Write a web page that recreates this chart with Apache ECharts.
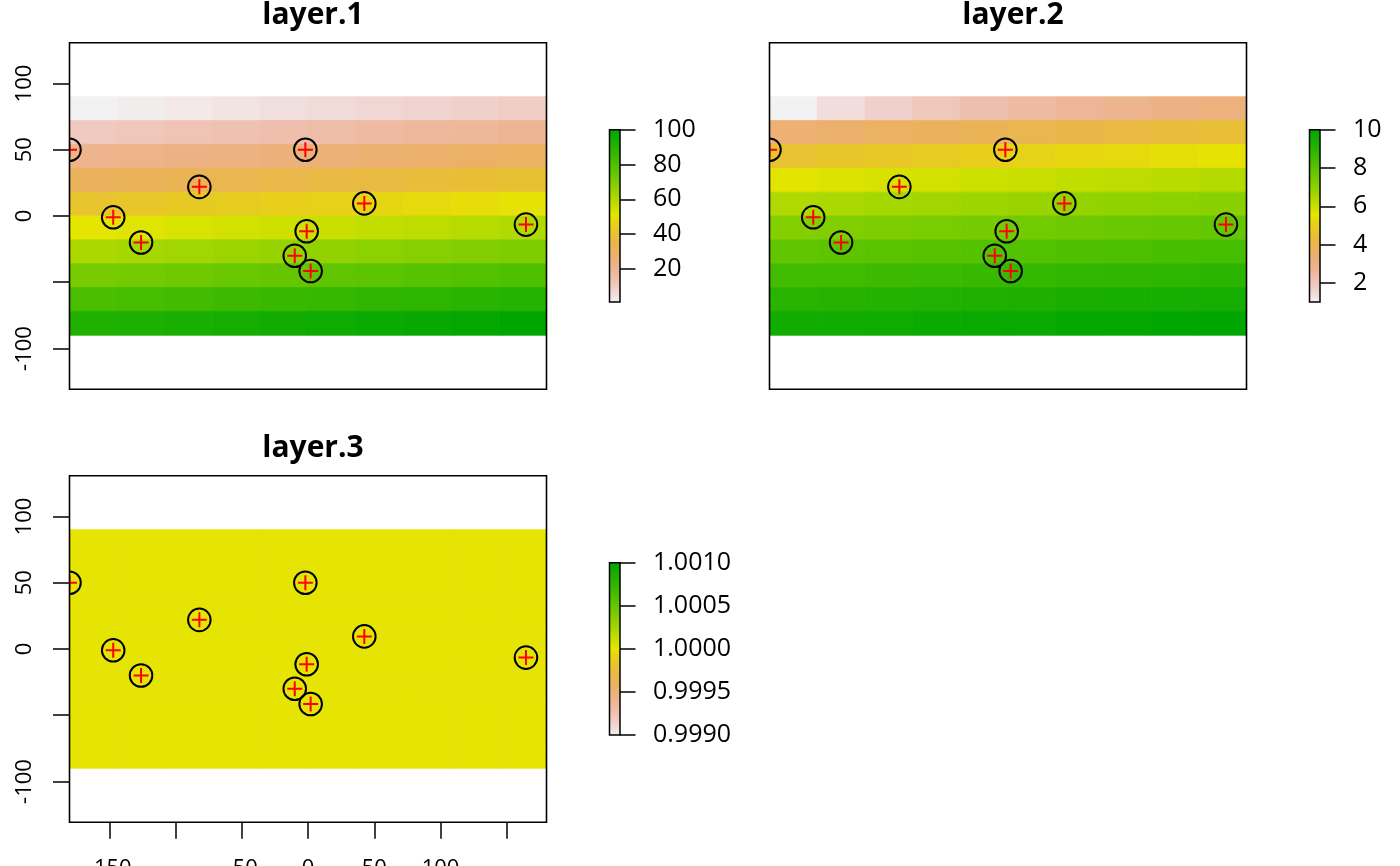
<!DOCTYPE html>
<html>
<head>
<meta charset="utf-8">
<title>layer.1 / layer.2 / layer.3</title>
<script src="https://cdn.jsdelivr.net/npm/echarts@6/dist/echarts.min.js"></script>
<style>
    html, body { margin: 0; padding: 0; background: #fff; }
    #main { width: 1400px; height: 866px; }
</style>
</head>
<body>
<div id="main"></div>
<script>
// 栅格单元中心（经度、纬度）
var lonCenters = [-162, -126, -90, -54, -18, 18, 54, 90, 126, 162];
var latCenters = [81, 63, 45, 27, 9, -9, -27, -45, -63, -81];

// 三个图层的值，每行从上到下，每行内从左到右
var layer1 = [
    [1, 2, 3, 4, 5, 6, 7, 8, 9, 10],
    [11, 12, 13, 14, 15, 16, 17, 18, 19, 20],
    [21, 22, 23, 24, 25, 26, 27, 28, 29, 30],
    [31, 32, 33, 34, 35, 36, 37, 38, 39, 40],
    [41, 42, 43, 44, 45, 46, 47, 48, 49, 50],
    [51, 52, 53, 54, 55, 56, 57, 58, 59, 60],
    [61, 62, 63, 64, 65, 66, 67, 68, 69, 70],
    [71, 72, 73, 74, 75, 76, 77, 78, 79, 80],
    [81, 82, 83, 84, 85, 86, 87, 88, 89, 90],
    [91, 92, 93, 94, 95, 96, 97, 98, 99, 100]
];
var layer2 = [
    [1, 1.41, 1.73, 2, 2.24, 2.45, 2.65, 2.83, 3, 3.16],
    [3.32, 3.46, 3.61, 3.74, 3.87, 4, 4.12, 4.24, 4.36, 4.47],
    [4.58, 4.69, 4.80, 4.90, 5, 5.10, 5.20, 5.29, 5.39, 5.48],
    [5.57, 5.66, 5.74, 5.83, 5.92, 6, 6.08, 6.16, 6.24, 6.32],
    [6.40, 6.48, 6.56, 6.63, 6.71, 6.78, 6.86, 6.93, 7, 7.07],
    [7.14, 7.21, 7.28, 7.35, 7.42, 7.48, 7.55, 7.62, 7.68, 7.75],
    [7.81, 7.87, 7.94, 8, 8.06, 8.12, 8.19, 8.25, 8.31, 8.37],
    [8.43, 8.49, 8.54, 8.60, 8.66, 8.72, 8.77, 8.83, 8.89, 8.94],
    [9, 9.06, 9.11, 9.17, 9.22, 9.27, 9.33, 9.38, 9.43, 9.49],
    [9.54, 9.59, 9.64, 9.70, 9.75, 9.80, 9.85, 9.90, 9.95, 10]
];
var layer3 = [
    [1, 1, 1, 1, 1, 1, 1, 1, 1, 1],
    [1, 1, 1, 1, 1, 1, 1, 1, 1, 1],
    [1, 1, 1, 1, 1, 1, 1, 1, 1, 1],
    [1, 1, 1, 1, 1, 1, 1, 1, 1, 1],
    [1, 1, 1, 1, 1, 1, 1, 1, 1, 1],
    [1, 1, 1, 1, 1, 1, 1, 1, 1, 1],
    [1, 1, 1, 1, 1, 1, 1, 1, 1, 1],
    [1, 1, 1, 1, 1, 1, 1, 1, 1, 1],
    [1, 1, 1, 1, 1, 1, 1, 1, 1, 1],
    [1, 1, 1, 1, 1, 1, 1, 1, 1, 1]
];
var layerNames = ['layer.1', 'layer.2', 'layer.3'];
// 图例范围
var layerMin = [1, 1, 0.999];
var layerMax = [100, 10, 1.001];

// 点
var ptLon = [-180, -147, -126, -82, -2, -1, -10, 2, 42.5, 164.5];
var ptLat = [50, -1, -20, 22, 50, -11.5, -30, -41.5, 9.5, -6.5];

// 刻度
var xTicks = [-150, -100, -50, 0, 50, 100, 150];
var xLabels = [-150, -50, 0, 50, 100];
var yTicks = [-100, -50, 0, 50, 100];
var yLabels = [-100, 0, 50, 100];
var legendTicks = [
    [20, 40, 60, 80, 100],
    [2, 4, 6, 8, 10],
    [0.999, 0.9995, 1, 1.0005, 1.001]
];

var FONT = '"Open Sans", "Noto Sans", sans-serif';

// R terrain.colors(n)，再反转
function hsv(h, s, v) {
    var i = Math.floor(h * 6), f = h * 6 - i;
    var p = v * (1 - s), q = v * (1 - f * s), t = v * (1 - (1 - f) * s);
    var r, g, b;
    switch (((i % 6) + 6) % 6) {
        case 0: r = v; g = t; b = p; break;
        case 1: r = q; g = v; b = p; break;
        case 2: r = p; g = v; b = t; break;
        case 3: r = p; g = q; b = v; break;
        case 4: r = t; g = p; b = v; break;
        default: r = v; g = p; b = q;
    }
    return 'rgb(' + Math.round(r * 255) + ',' + Math.round(g * 255) + ',' + Math.round(b * 255) + ')';
}
function seq(a, b, len) {
    var out = [];
    for (var i = 0; i < len; i++) out.push(len === 1 ? a : a + (b - a) * i / (len - 1));
    return out;
}
function terrainColors(n) {
    var k = Math.floor(n / 2), m = n - k + 1;
    var h1 = seq(4 / 12, 2 / 12, k), v1 = seq(0.65, 0.9, k);
    var h2 = seq(2 / 12, 0, m), s2 = seq(1, 0, m), v2 = seq(0.9, 0.95, m);
    var cols = [];
    for (var i = 0; i < k; i++) cols.push(hsv(h1[i], 1, v1[i]));
    for (var j = 1; j < m; j++) cols.push(hsv(h2[j], s2[j], v2[j]));
    return cols;
}
var palette = terrainColors(255).reverse();

var myChart = echarts.init(document.getElementById('main'));

// 面板位置
var panels = [
    {left: 69.5, top: 42.7},
    {left: 769.5, top: 42.7},
    {left: 69.5, top: 475.7}
];
var PW = 477, PH = 346.6;

var grids = [], xAxes = [], yAxes = [], series = [], visualMaps = [], titles = [];
var layers = [layer1, layer2, layer3];

function cellData(layer) {
    var out = [];
    for (var r = 0; r < latCenters.length; r++) {
        for (var c = 0; c < lonCenters.length; c++) {
            out.push([lonCenters[c], latCenters[r], layer[r][c]]);
        }
    }
    return out;
}
var pointData = ptLon.map(function (x, i) { return [x, ptLat[i]]; });

var halfLon = (lonCenters[1] - lonCenters[0]) / 2;
var halfLat = (latCenters[0] - latCenters[1]) / 2;

function renderCell(params, api) {
    var p1 = api.coord([api.value(0) - halfLon, api.value(1) + halfLat]);
    var p2 = api.coord([api.value(0) + halfLon, api.value(1) - halfLat]);
    var col = api.visual('color');
    return {
        type: 'rect',
        shape: {x: p1[0], y: p1[1], width: p2[0] - p1[0], height: p2[1] - p1[1]},
        style: {fill: col, stroke: col, lineWidth: 0.8}
    };
}
function renderPoint(params, api) {
    var p = api.coord([api.value(0), api.value(1)]);
    return {
        type: 'group',
        children: [
            {type: 'circle', shape: {cx: p[0], cy: p[1], r: 11.3}, style: {fill: 'none', stroke: '#000', lineWidth: 2}},
            {type: 'line', shape: {x1: p[0] - 7.5, y1: p[1], x2: p[0] + 7.5, y2: p[1]}, style: {stroke: '#ff0000', lineWidth: 2}},
            {type: 'line', shape: {x1: p[0], y1: p[1] - 7.5, x2: p[0], y2: p[1] + 7.5}, style: {stroke: '#ff0000', lineWidth: 2}}
        ]
    };
}
function gradientStops() {
    return palette.map(function (c, i) { return {offset: i / (palette.length - 1), color: c}; });
}
function renderBar(params, api) {
    var p1 = api.coord([0, api.value(1)]);
    var p2 = api.coord([1, api.value(0)]);
    return {
        type: 'rect',
        shape: {x: p1[0], y: p1[1], width: p2[0] - p1[0], height: p2[1] - p1[1]},
        style: {
            fill: new echarts.graphic.LinearGradient(0, 1, 0, 0, gradientStops()),
            stroke: '#000', lineWidth: 1.5
        }
    };
}

for (var k = 0; k < 3; k++) {
    var pn = panels[k];
    // 主图
    grids.push({left: pn.left, top: pn.top, width: PW, height: PH, show: true, outerBoundsMode: 'none',
        borderColor: '#000', borderWidth: 1.6, backgroundColor: 'transparent', z: 10});
    // 图例色条
    grids.push({left: pn.left + 540, top: pn.top + 87, width: 10.5, height: 172.3, outerBoundsMode: 'none'});

    var showX = (k === 2), showY = (k !== 1);
    xAxes.push({
        gridIndex: 2 * k, type: 'value', min: -180, max: 180,
        splitLine: {show: false}, axisLine: {show: false, onZero: false},
        axisTick: {show: showX, length: 16.5, customValues: xTicks, lineStyle: {color: '#000', width: 1.5}},
        axisLabel: {show: showX, customValues: xLabels, margin: 35, color: '#000', fontSize: 22, fontFamily: FONT}
    });
    yAxes.push({
        gridIndex: 2 * k, type: 'value', min: -130.8, max: 130.8,
        splitLine: {show: false}, axisLine: {show: false, onZero: false},
        axisTick: {show: showY, length: 16.5, customValues: yTicks, lineStyle: {color: '#000', width: 1.5}},
        axisLabel: {show: showY, customValues: yLabels, rotate: 90, margin: 34, color: '#000', fontSize: 22, fontFamily: FONT}
    });
    xAxes.push({gridIndex: 2 * k + 1, type: 'value', min: 0, max: 1, show: false});
    yAxes.push({
        gridIndex: 2 * k + 1, type: 'value', position: 'right',
        min: layerMin[k], max: layerMax[k],
        splitLine: {show: false}, axisLine: {show: false, onZero: false},
        axisTick: {length: 15.5, customValues: legendTicks[k], lineStyle: {color: '#000', width: 1.5}},
        axisLabel: {
            customValues: legendTicks[k], margin: 33, color: '#000', fontSize: 25, fontFamily: FONT,
            formatter: k === 2 ? function (v) { return v.toFixed(4); } : '{value}'
        }
    });

    series.push({
        type: 'custom', name: layerNames[k], xAxisIndex: 2 * k, yAxisIndex: 2 * k,
        data: cellData(layers[k]), renderItem: renderCell, clip: true, z: 1, silent: true
    });
    visualMaps.push({
        type: 'continuous', show: false, seriesIndex: series.length - 1, dimension: 2,
        min: layerMin[k], max: layerMax[k], inRange: {color: palette}
    });
    series.push({
        type: 'custom', name: layerNames[k] + ' points', xAxisIndex: 2 * k, yAxisIndex: 2 * k,
        data: pointData, renderItem: renderPoint, clip: true, z: 3, silent: true
    });
    series.push({
        type: 'custom', name: layerNames[k] + ' legend', xAxisIndex: 2 * k + 1, yAxisIndex: 2 * k + 1,
        data: [[layerMin[k], layerMax[k]]], renderItem: renderBar, clip: false, z: 3, silent: true
    });

    titles.push({
        text: layerNames[k], left: pn.left + PW / 2, top: pn.top - 47.7, textAlign: 'center',
        textStyle: {fontSize: 30, fontWeight: 'bold', color: '#000', fontFamily: FONT}
    });
}

var option = {
    backgroundColor: '#fff',
    animation: false,
    title: titles,
    grid: grids,
    xAxis: xAxes,
    yAxis: yAxes,
    visualMap: visualMaps,
    series: series
};
myChart.setOption(option);
</script>
</body>
</html>
